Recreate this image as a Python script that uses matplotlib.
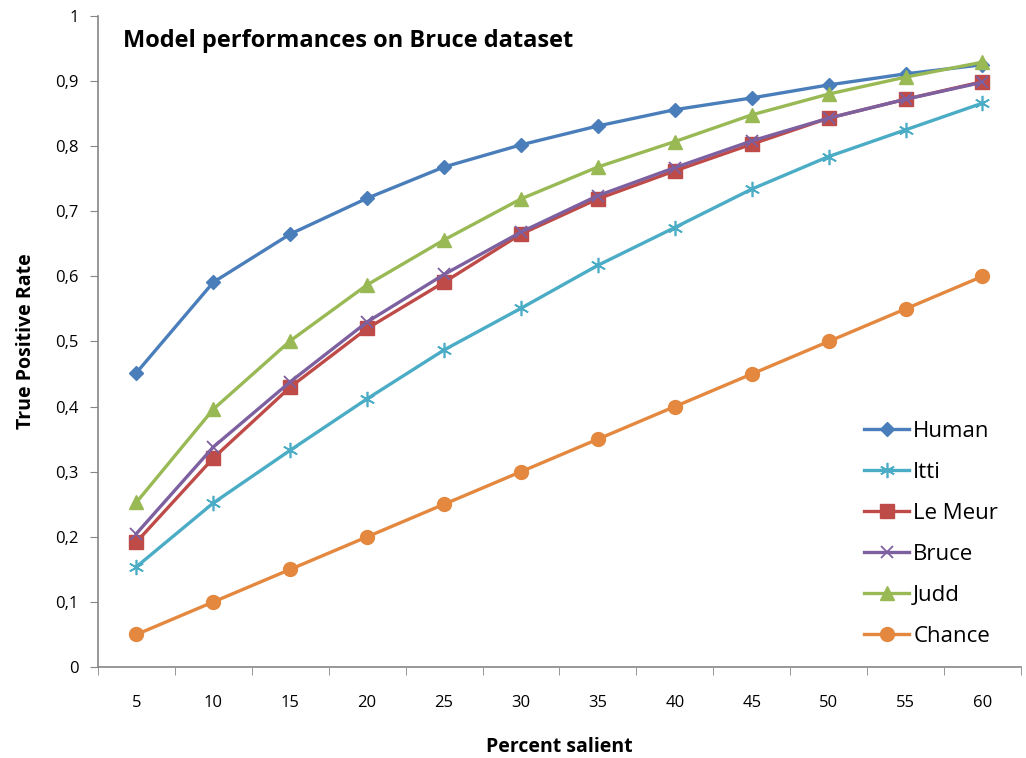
import matplotlib
matplotlib.use("Agg")
import matplotlib.pyplot as plt
import numpy as np
from matplotlib.ticker import FixedLocator, FuncFormatter

percent = [5, 10, 15, 20, 25, 30, 35, 40, 45, 50, 55, 60]

human = [0.452, 0.591, 0.665, 0.720, 0.768, 0.802, 0.831, 0.856, 0.874, 0.894, 0.911, 0.925]
itti = [0.154, 0.252, 0.333, 0.412, 0.487, 0.551, 0.617, 0.675, 0.734, 0.784, 0.825, 0.866]
le_meur = [0.192, 0.321, 0.430, 0.520, 0.591, 0.665, 0.719, 0.762, 0.803, 0.843, 0.872, 0.899]
bruce = [0.205, 0.338, 0.438, 0.530, 0.603, 0.668, 0.724, 0.767, 0.808, 0.843, 0.872, 0.898]
judd = [0.253, 0.396, 0.501, 0.587, 0.656, 0.719, 0.768, 0.807, 0.848, 0.880, 0.906, 0.929]
chance = [0.05, 0.10, 0.15, 0.20, 0.25, 0.30, 0.35, 0.40, 0.45, 0.50, 0.55, 0.60]

plt.rcParams['font.family'] = ['Open Sans', 'DejaVu Sans']

fig = plt.figure(figsize=(10.26, 7.58), dpi=100)
ax = fig.add_axes([0.0955, 0.12, 0.8995, 0.859])

x = np.arange(len(percent))
lw = 2.4
ax.plot(x, human, color='#4A7EBB', lw=lw, marker='D', ms=7, label='Human')
ax.plot(x, itti, color='#4BACC6', lw=lw, marker=(6, 2, 0), ms=11, mew=1.2, label='Itti')
ax.plot(x, le_meur, color='#BE4B48', lw=lw, marker='s', ms=10, label='Le Meur')
ax.plot(x, bruce, color='#7D60A0', lw=lw, marker='x', ms=9, mew=1.3, label='Bruce')
ax.plot(x, judd, color='#98B954', lw=lw, marker='^', ms=10, label='Judd')
ax.plot(x, chance, color='#E3883E', lw=lw, marker='o', ms=10, label='Chance')

ax.set_xlim(-0.5, len(percent) - 0.5)
ax.set_ylim(0, 1)

ax.set_xticks(x)
ax.set_xticklabels([str(p) for p in percent])
ax.xaxis.set_minor_locator(FixedLocator(np.arange(-0.5, len(percent), 1.0)))
ax.tick_params(axis='x', which='major', length=0, pad=20, labelsize=12)
ax.tick_params(axis='x', which='minor', length=6, direction='out', color='#868686')

ax.set_yticks(np.arange(0, 1.01, 0.1))
ax.yaxis.set_major_formatter(FuncFormatter(lambda v, p: '0' if v == 0 else ('1' if abs(v - 1) < 1e-9 else f'{v:.1f}'.replace('.', ','))))
ax.tick_params(axis='y', length=6, direction='out', color='#868686', labelsize=12, pad=8)

for s in ['top', 'right']:
    ax.spines[s].set_visible(False)
for s in ['left', 'bottom']:
    ax.spines[s].set_color('#868686')
    ax.spines[s].set_linewidth(1.2)

ax.text(0.027, 0.962, 'Model performances on Bruce dataset', transform=ax.transAxes,
        fontsize=17, fontweight='bold', va='center', ha='left')
ax.set_ylabel('True Positive Rate', fontsize=14, fontweight='bold', labelpad=14)
ax.set_xlabel('Percent salient', fontsize=14, fontweight='bold', labelpad=19)

ax.legend(loc='lower right', bbox_to_anchor=(0.997, 0.0), frameon=False, fontsize=16,
          handlelength=2.0, handletextpad=0.2, labelspacing=0.9)

fig.savefig('out.png', dpi=100)
